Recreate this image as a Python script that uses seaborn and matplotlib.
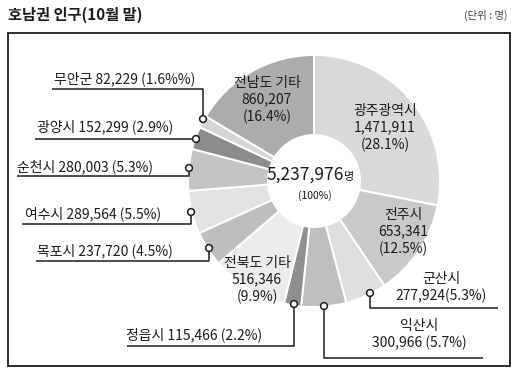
''' 호남권 인구 donut chart (10월 말) '''

import numpy as np
import pandas as pd
import matplotlib.pyplot as plt
import seaborn as sns
from matplotlib.patches import Rectangle, Circle

# data (clockwise from the top)
regions = ['광주광역시', '전주시', '군산시', '익산시', '정읍시', '전북도 기타',
           '목포시', '여수시', '순천시', '광양시', '무안군', '전남도 기타']
population = [1471911, 653341, 277924, 300966, 115466, 516346,
              237720, 289564, 280003, 152299, 82229, 860207]
shares = ['28.1%', '12.5%', '5.3%', '5.7%', '2.2%', '9.9%',
          '4.5%', '5.5%', '5.3%', '2.9%', '1.6%%', '16.4%']
grays = ['#d9d9da', '#c9c9ca', '#dedede', '#bfbfc0', '#8e8f91', '#ececec',
         '#bebebf', '#e3e3e3', '#c4c4c5', '#8b8c8e', '#d6d6d7', '#acacad']
total = 5237976

df = pd.DataFrame({'region': regions, 'pop': population, 'share': shares})

sns.set_theme(style='white')
plt.rcParams['font.family'] = ['Noto Sans CJK KR', 'DejaVu Sans']
INK = '#1e1b1c'

fig = plt.figure(figsize=(5.17, 3.72), dpi=100)
ax = fig.add_axes([0, 0, 1, 1])

# pixel coordinates, y down
cx, cy, r_out, r_in = 314, 181, 126, 46
ax.pie(df['pop'], colors=grays, startangle=-90, counterclock=True,
       center=(cx, cy), radius=r_out,
       wedgeprops=dict(width=r_out - r_in, edgecolor='white', linewidth=1.4))
ax.set_xlim(0, 517)
ax.set_ylim(372, 0)
ax.set_aspect('auto')
ax.axis('off')

# frame + title
ax.add_patch(Rectangle((8, 33), 502, 333, fill=False, edgecolor=INK, lw=1.3))
ax.text(8, 15, '호남권 인구(10월 말)', fontsize=11, fontweight='bold',
        color=INK, ha='left', va='center')
ax.text(508, 15, '(단위 : 명)', fontsize=7.5, color='#444444',
        ha='right', va='center')

# centre total
ax.text(344, 180, f'{total:,}', fontsize=12.5, color=INK, ha='right', va='baseline')
ax.text(344, 180, '명', fontsize=8, color=INK, ha='left', va='baseline')
ax.text(315, 196, '(100%)', fontsize=7.5, color=INK, ha='center', va='center')

fs = 10
ls = 1.22


def inside(i, x, y):
    row = df.iloc[i]
    txt = f"{row['region']}\n{row['pop']:,}\n({row['share']})"
    ax.text(x, y, txt, fontsize=fs, color=INK, ha='center', va='center',
            linespacing=ls)


def callout(i, tx, ty, path, ha='center', txt=None):
    row = df.iloc[i]
    if txt is None:
        txt = f"{row['region']} {row['pop']:,} ({row['share']})"
    ax.text(tx, ty, txt, fontsize=fs, color=INK, ha=ha, va='center',
            linespacing=ls)
    xs, ys = zip(*path)
    ax.plot(xs, ys, color=INK, lw=1.1, solid_capstyle='butt')
    ax.add_patch(Circle(path[0], 3.4, facecolor='white', edgecolor=INK,
                        lw=1.1, zorder=5))


inside(0, 385, 128)
inside(11, 267, 100)
inside(1, 403, 232)
inside(5, 257, 280)

r = df.iloc[2]
callout(2, 441, 288, [(370, 293), (370, 308), (498, 308)],
        txt=f"{r['region']}\n{r['pop']:,}({r['share']})")
r = df.iloc[3]
callout(3, 419, 335, [(324, 306), (324, 358), (483, 358)],
        txt=f"{r['region']}\n{r['pop']:,} ({r['share']})")
callout(4, 194, 335, [(294, 304), (294, 346), (127, 346)])
callout(6, 105, 251, [(209, 248), (209, 261), (36, 261)])
callout(7, 93, 214, [(191, 212), (191, 224), (22, 224)])
callout(8, 85, 167, [(189, 168), (189, 176), (17, 176)])
callout(9, 105, 127, [(196, 139), (35, 139)])
callout(10, 125, 79, [(203, 119), (203, 89), (52, 89)])

fig.savefig('out.png', dpi=100)
